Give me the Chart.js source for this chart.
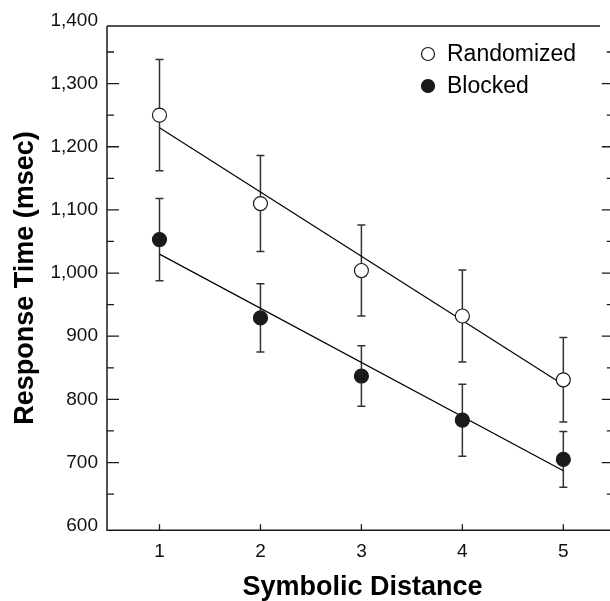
<!DOCTYPE html>
<html>
<head>
<meta charset="utf-8">
<script src="https://cdn.jsdelivr.net/npm/chart.js@4/dist/chart.umd.min.js"></script>
<style>
  html, body { margin: 0; padding: 0; background: #fff; overflow: hidden; }
  canvas { display: block; }
</style>
</head>
<body>
<canvas id="chart" width="622" height="601"></canvas>
<script>
// data
const distance = [1, 2, 3, 4, 5];
const randomizedMean = [1250, 1110, 1004, 932, 831];
const randomizedErr = [88, 76, 72, 73, 67];
const blockedMean = [1053, 929, 837, 767, 705];
const blockedErr = [65, 54, 48, 57, 44];

// fitted lines (end points at distance 1 and 5)
const fitX = [1, 5];
const randomizedFit = [1230, 823];
const blockedFit = [1030, 687];

// ticks
const xTicks = [1, 2, 3, 4, 5];
const yTicks = [600, 700, 800, 900, 1000, 1100, 1200, 1300, 1400];
const yMajorMarks = [700, 800, 900, 1000, 1100, 1200, 1300];
const yMinorMarks = [650, 750, 850, 950, 1050, 1150, 1250, 1350];

const legendNames = ['Randomized', 'Blocked'];

const FONT = '"Liberation Sans", Arial, Helvetica, sans-serif';
const INK = '#1a1a1a';

function toPoints(xs, ys) {
	return xs.map((x, i) => ({ x: x, y: ys[i] }));
}

// error bars, drawn under the markers
const errorBars = {
	id: 'errorBars',
	beforeDatasetsDraw(chart) {
		const ctx = chart.ctx;
		const y = chart.scales.y;
		chart.data.datasets.forEach((ds, i) => {
			if (!ds.errors) return;
			const meta = chart.getDatasetMeta(i);
			meta.data.forEach((pt, j) => {
				const v = ds.data[j].y;
				const top = y.getPixelForValue(v + ds.errors[j]);
				const bot = y.getPixelForValue(v - ds.errors[j]);
				ctx.save();
				ctx.strokeStyle = '#333';
				ctx.lineWidth = 1.5;
				ctx.beginPath();
				ctx.moveTo(pt.x, top);
				ctx.lineTo(pt.x, bot);
				ctx.moveTo(pt.x - 4, top);
				ctx.lineTo(pt.x + 4, top);
				ctx.moveTo(pt.x - 4, bot);
				ctx.lineTo(pt.x + 4, bot);
				ctx.stroke();
				ctx.restore();
			});
		});
	}
};

// frame, inward tick marks, axis titles and legend
const frameAndLabels = {
	id: 'frameAndLabels',
	afterDraw(chart) {
		const ctx = chart.ctx;
		const a = chart.chartArea;
		const xs = chart.scales.x;
		const ys = chart.scales.y;
		const top = a.top + 5.5;
		const bottom = a.bottom + 4.5;

		ctx.save();
		ctx.strokeStyle = INK;
		ctx.lineWidth = 1.5;
		ctx.beginPath();
		ctx.moveTo(a.left, top);
		ctx.lineTo(600, top);
		ctx.moveTo(a.left, top);
		ctx.lineTo(a.left, bottom);
		ctx.lineTo(a.right + 10, bottom);
		ctx.stroke();

		// y tick marks, both sides
		ctx.lineWidth = 1.3;
		ctx.beginPath();
		yMajorMarks.forEach(v => {
			const p = ys.getPixelForValue(v);
			ctx.moveTo(a.left, p);
			ctx.lineTo(a.left + 12, p);
			ctx.moveTo(a.right, p);
			ctx.lineTo(a.right - 12, p);
		});
		yMinorMarks.forEach(v => {
			const p = ys.getPixelForValue(v);
			ctx.moveTo(a.left, p);
			ctx.lineTo(a.left + 7, p);
			ctx.moveTo(a.right, p);
			ctx.lineTo(a.right - 7, p);
		});
		// x tick marks
		xTicks.forEach(v => {
			const p = xs.getPixelForValue(v);
			ctx.moveTo(p, bottom);
			ctx.lineTo(p, bottom - 6);
		});
		ctx.stroke();

		// axis titles
		ctx.fillStyle = '#000';
		ctx.font = 'bold 27px ' + FONT;
		ctx.textAlign = 'center';
		ctx.textBaseline = 'middle';
		ctx.fillText('Symbolic Distance', (a.left + 616) / 2 + 1, 588);
		ctx.save();
		ctx.translate(26, (top + bottom) / 2);
		ctx.rotate(-Math.PI / 2);
		ctx.fillText('Response Time (msec)', 0, 0);
		ctx.restore();

		// legend
		ctx.font = '23px ' + FONT;
		ctx.textAlign = 'left';
		const rows = [54, 86];
		chart.data.datasets.slice(0, 2).forEach((ds, i) => {
			ctx.beginPath();
			ctx.arc(428, rows[i], 6.5, 0, Math.PI * 2);
			ctx.fillStyle = ds.pointBackgroundColor;
			ctx.fill();
			ctx.strokeStyle = INK;
			ctx.lineWidth = 1.2;
			ctx.stroke();
			ctx.fillStyle = '#000';
			ctx.fillText(legendNames[i], 447, rows[i] + 1);
		});
		ctx.restore();
	}
};

new Chart(document.getElementById('chart'), {
	type: 'scatter',
	data: {
		datasets: [{
			label: legendNames[0],
			data: toPoints(distance, randomizedMean),
			errors: randomizedErr,
			pointRadius: 7,
			pointBackgroundColor: '#fff',
			pointBorderColor: INK,
			pointBorderWidth: 1.2,
			order: 0
		}, {
			label: legendNames[1],
			data: toPoints(distance, blockedMean),
			errors: blockedErr,
			pointRadius: 7,
			pointBackgroundColor: INK,
			pointBorderColor: INK,
			pointBorderWidth: 1.2,
			order: 0
		}, {
			label: 'Randomized fit',
			data: toPoints(fitX, randomizedFit),
			showLine: true,
			pointRadius: 0,
			borderColor: '#000',
			borderWidth: 1.2,
			order: 1
		}, {
			label: 'Blocked fit',
			data: toPoints(fitX, blockedFit),
			showLine: true,
			pointRadius: 0,
			borderColor: '#000',
			borderWidth: 1.2,
			order: 1
		}]
	},
	options: {
		responsive: false,
		animation: false,
		layout: { padding: { top: 19, right: 7, left: 0, bottom: 0 } },
		plugins: {
			legend: { display: false },
			tooltip: { enabled: false }
		},
		scales: {
			x: {
				type: 'linear',
				min: 0.48,
				max: 5.5,
				grid: { display: false, drawTicks: false },
				border: { display: false },
				afterBuildTicks: s => { s.ticks = xTicks.map(v => ({ value: v })); },
				afterFit: s => { s.height = 75.3; },
				ticks: {
					padding: 15,
					color: '#111',
					font: { family: FONT, size: 19 }
				}
			},
			y: {
				min: 600,
				max: 1400,
				grid: { display: false, drawTicks: false },
				border: { display: false },
				afterBuildTicks: s => { s.ticks = yTicks.map(v => ({ value: v })); },
				afterFit: s => { s.width = 107; },
				ticks: {
					padding: 9,
					color: '#111',
					font: { family: FONT, size: 19 },
					callback: v => v.toLocaleString('en-US')
				}
			}
		}
	},
	plugins: [errorBars, frameAndLabels]
});
</script>
</body>
</html>
